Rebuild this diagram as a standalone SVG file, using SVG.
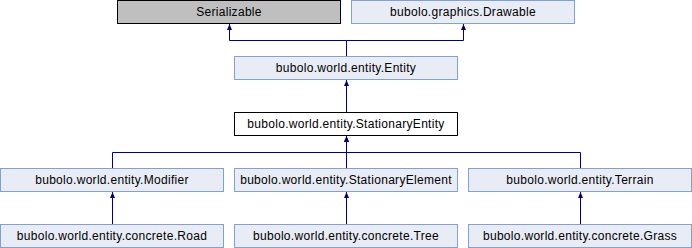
<svg xmlns="http://www.w3.org/2000/svg" width="692" height="248" viewBox="0 0 692 248">
  <style>
    .box { fill: #e8ecf5; stroke: #84a0d0; stroke-width: 1; }
    .ext { fill: #bfbfbf; stroke: #000000; stroke-width: 1; }
    .cur { fill: #ffffff; stroke: #000000; stroke-width: 1; }
    .lbl { font-family: "Liberation Sans", Arial, sans-serif; font-size: 12px; letter-spacing: 0.3px; fill: #000000; text-anchor: middle; }
    .edge { fill: none; stroke: #000080; stroke-width: 1; }
  </style>
  <defs>
    <!-- filled inheritance arrowhead, tip at the end of the path -->
    <marker id="arrow" markerWidth="7" markerHeight="6" refX="6" refY="3" orient="auto" markerUnits="userSpaceOnUse" viewBox="0 0 7 6">
      <path d="M0,0.5 L6,3 L0,5.5 Z" fill="#000080"/>
    </marker>
  </defs>

  <g id="connectors">
    <path class="edge" d="M346.5,56 V40.5 H229.5 V24" marker-end="url(#arrow)"/>
    <path class="edge" d="M346.5,56 V40.5 H463.5 V24" marker-end="url(#arrow)"/>
    <path class="edge" d="M346.5,112 V80" marker-end="url(#arrow)"/>
    <path class="edge" d="M112.5,168 V152.5 H346.5 V136" marker-end="url(#arrow)"/>
    <path class="edge" d="M346.5,168 V136" marker-end="url(#arrow)"/>
    <path class="edge" d="M580.5,168 V152.5 H346.5"/>
    <path class="edge" d="M112.5,224 V192" marker-end="url(#arrow)"/>
    <path class="edge" d="M346.5,224 V192" marker-end="url(#arrow)"/>
    <path class="edge" d="M580.5,224 V192" marker-end="url(#arrow)"/>
  </g>

  <g id="serializable">
    <rect class="ext" x="117.5" y="0.5" width="223" height="23"/>
    <text class="lbl" x="229" y="16">Serializable</text>
  </g>
  <g id="drawable">
    <rect class="box" x="351.5" y="0.5" width="223" height="23"/>
    <text class="lbl" x="463" y="16">bubolo.graphics.Drawable</text>
  </g>
  <g id="entity">
    <rect class="box" x="234.5" y="56.5" width="223" height="23"/>
    <text class="lbl" x="346" y="72">bubolo.world.entity.Entity</text>
  </g>
  <g id="stationary-entity">
    <rect class="cur" x="234.5" y="112.5" width="223" height="23"/>
    <text class="lbl" x="346" y="128">bubolo.world.entity.StationaryEntity</text>
  </g>
  <g id="modifier">
    <rect class="box" x="0.5" y="168.5" width="223" height="23"/>
    <text class="lbl" x="112" y="184">bubolo.world.entity.Modifier</text>
  </g>
  <g id="stationary-element">
    <rect class="box" x="234.5" y="168.5" width="223" height="23"/>
    <text class="lbl" x="346" y="184">bubolo.world.entity.StationaryElement</text>
  </g>
  <g id="terrain">
    <rect class="box" x="468.5" y="168.5" width="223" height="23"/>
    <text class="lbl" x="580" y="184">bubolo.world.entity.Terrain</text>
  </g>
  <g id="road">
    <rect class="box" x="0.5" y="224.5" width="223" height="23"/>
    <text class="lbl" x="112" y="240">bubolo.world.entity.concrete.Road</text>
  </g>
  <g id="tree">
    <rect class="box" x="234.5" y="224.5" width="223" height="23"/>
    <text class="lbl" x="346" y="240">bubolo.world.entity.concrete.Tree</text>
  </g>
  <g id="grass">
    <rect class="box" x="468.5" y="224.5" width="223" height="23"/>
    <text class="lbl" x="580" y="240">bubolo.world.entity.concrete.Grass</text>
  </g>
</svg>
